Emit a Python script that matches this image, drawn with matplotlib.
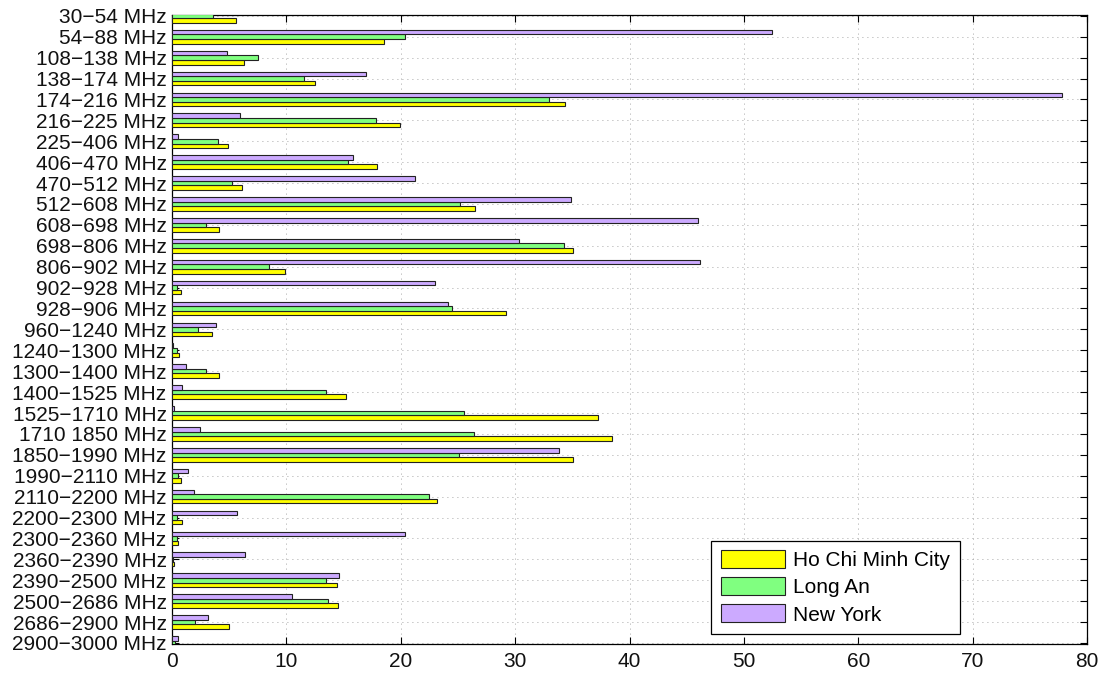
import numpy as np
import matplotlib
matplotlib.use("Agg")
import matplotlib.pyplot as plt

# Bandas de frecuencia y ocupacion medida (%) en cada ciudad
bandas = ["30−54 MHz", "54−88 MHz", "108−138 MHz", "138−174 MHz", "174−216 MHz",
          "216−225 MHz", "225−406 MHz", "406−470 MHz", "470−512 MHz", "512−608 MHz",
          "608−698 MHz", "698−806 MHz", "806−902 MHz", "902−928 MHz", "928−906 MHz",
          "960−1240 MHz", "1240−1300 MHz", "1300−1400 MHz", "1400−1525 MHz",
          "1525−1710 MHz", "1710 1850 MHz", "1850−1990 MHz", "1990−2110 MHz",
          "2110−2200 MHz", "2200−2300 MHz", "2300−2360 MHz", "2360−2390 MHz",
          "2390−2500 MHz", "2500−2686 MHz", "2686−2900 MHz", "2900−3000 MHz"]

hcm = [5.6, 18.5, 6.3, 12.5, 34.4, 19.9, 4.85, 17.9, 6.1, 26.5,
       4.1, 35.1, 9.9, 0.76, 29.2, 3.5, 0.64, 4.1, 15.2, 37.2,
       38.5, 35.1, 0.76, 23.2, 0.9, 0.5, 0.2, 14.4, 14.5, 5.0, 0.3]
long_an = [3.6, 20.4, 7.5, 11.5, 33.0, 17.8, 4.0, 15.4, 5.2, 25.2,
           3.0, 34.3, 8.5, 0.4, 24.5, 2.3, 0.4, 3.0, 13.5, 25.5,
           26.4, 25.1, 0.5, 22.5, 0.4, 0.4, 0.1, 13.5, 13.6, 2.0, 0.3]
new_york = [0.0, 52.5, 4.8, 17.0, 77.8, 5.9, 0.5, 15.8, 21.2, 34.9,
            46.0, 30.3, 46.2, 23.0, 24.1, 3.8, 0.1, 1.2, 0.85, 0.2,
            2.4, 33.8, 1.4, 1.9, 5.7, 20.4, 6.4, 14.6, 10.5, 3.1, 0.5]

plt.rcParams["font.family"] = ["Liberation Sans", "DejaVu Sans"]

y = np.arange(1, len(bandas) + 1)
h = 0.22

fig = plt.figure(figsize=(11.03, 6.75), dpi=100)
ax = fig.add_axes([0.156, 0.046, 0.8295, 0.932])

ax.barh(y + h, hcm, height=h, color="#FFFF00", edgecolor="#222222", linewidth=0.8,
        label="Ho Chi Minh City", zorder=3)
ax.barh(y, long_an, height=h, color="#80FF80", edgecolor="#222222", linewidth=0.8,
        label="Long An", zorder=3)
ax.barh(y - h, new_york, height=h, color="#CCAAFF", edgecolor="#222222", linewidth=0.8,
        label="New York", zorder=3)

ax.set_xlim(0, 80)
ax.set_ylim(len(bandas) + 0.05, 0.95)
ax.set_xticks(np.arange(0, 81, 10))
ax.set_yticks(y)
ax.set_yticklabels(bandas)
ax.tick_params(axis="both", direction="in", top=True, right=True, length=5,
               width=0.8, labelsize=15, labelcolor="#111111")
ax.tick_params(axis="x", pad=6)
ax.tick_params(axis="y", pad=4)
ax.grid(True, linestyle=(0, (1, 5)), color="#888888", linewidth=0.6, zorder=0)
for s in ax.spines.values():
    s.set_linewidth(0.9)

ax.legend(loc="lower right", bbox_to_anchor=(0.861, 0.016), fontsize=15,
          frameon=True, fancybox=False, edgecolor="black", framealpha=1,
          handlelength=3.1, handleheight=0.95, labelspacing=0.33,
          borderpad=0.45, handletextpad=0.4, borderaxespad=0)
ax.get_legend().get_frame().set_linewidth(0.9)

plt.savefig("out.png", dpi=100)
plt.close()
